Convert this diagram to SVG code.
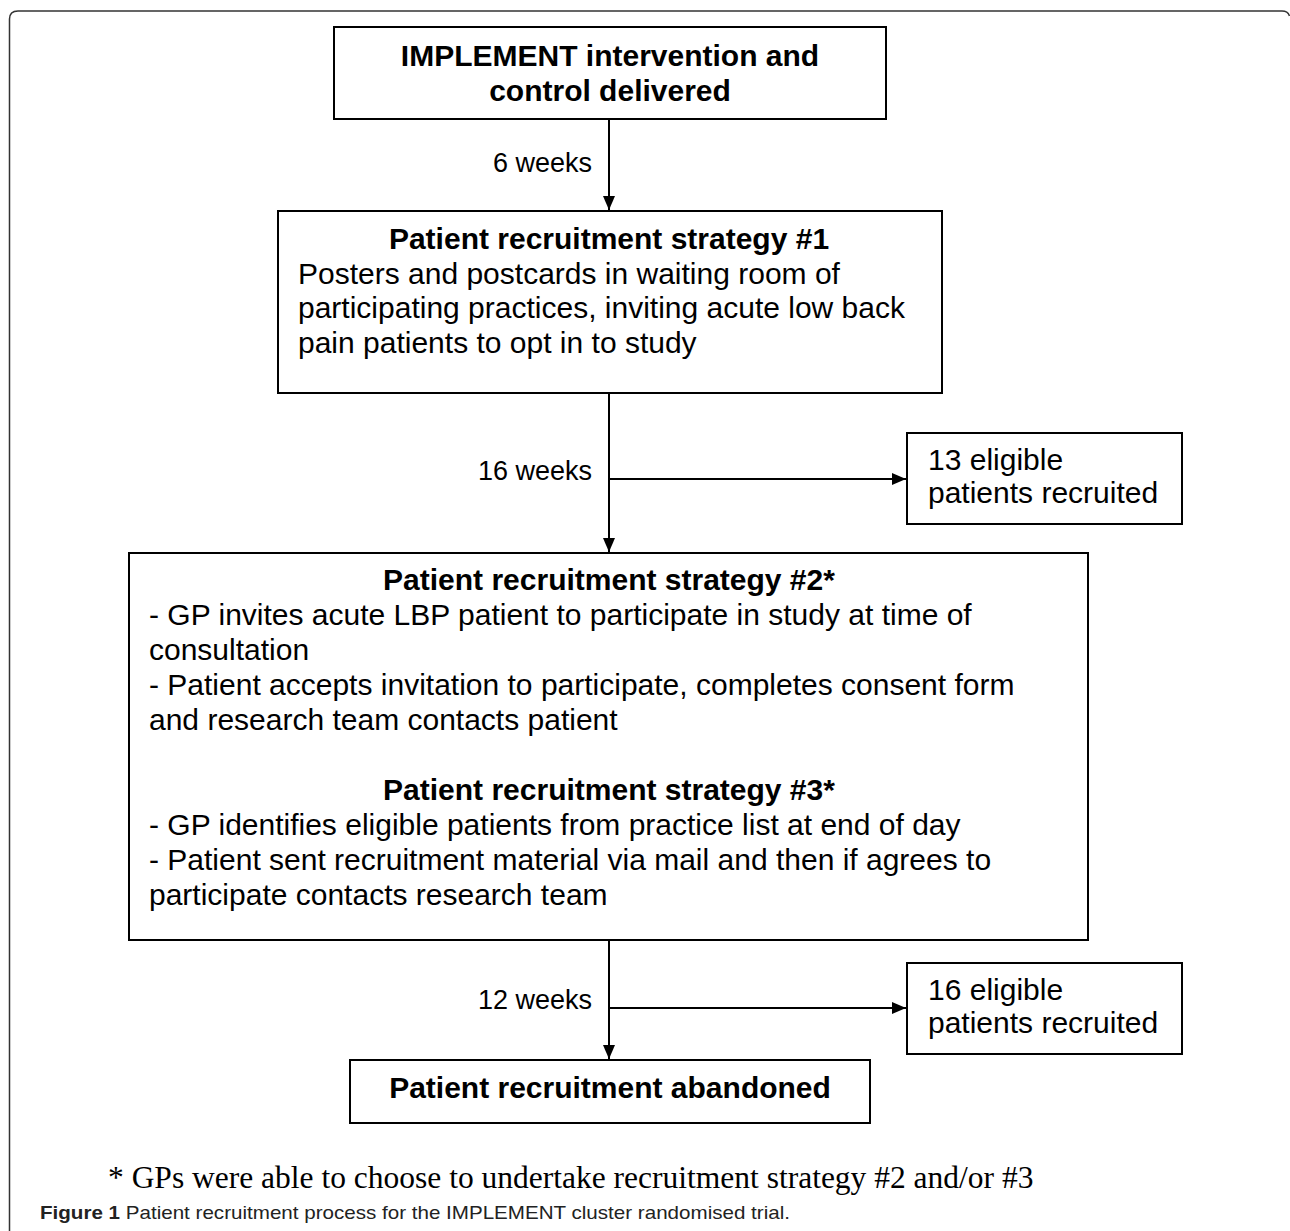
<svg xmlns="http://www.w3.org/2000/svg" width="1290" height="1231" viewBox="0 0 1290 1231">
<style>
.box{fill:#fff;stroke:#000;stroke-width:2}
.t{font-family:"Liberation Sans",Arial,sans-serif;font-size:30px;fill:#000}
.b{font-weight:bold}
.lbl{font-family:"Liberation Sans",Arial,sans-serif;font-size:27px;fill:#000}
.conn{stroke:#000;stroke-width:2;fill:none}
</style>
<defs>
<marker id="ah" markerWidth="14" markerHeight="12" refX="14" refY="6" orient="auto" markerUnits="userSpaceOnUse">
<path d="M0,0 L14,6 L0,12 Z" fill="#000"/>
</marker>
</defs>
<rect width="1290" height="1231" fill="#fff"/>
<path d="M9.5,1231 L9.5,19 Q9.5,11 18,11 L1282,11 Q1288,11 1289.5,16" fill="none" stroke="#333" stroke-width="1.5"/>

<g id="connectors">
<line class="conn" x1="609" y1="119" x2="609" y2="210" marker-end="url(#ah)"/>
<line class="conn" x1="609" y1="393" x2="609" y2="552" marker-end="url(#ah)"/>
<line class="conn" x1="609" y1="479" x2="906" y2="479" marker-end="url(#ah)"/>
<line class="conn" x1="609" y1="940" x2="609" y2="1059" marker-end="url(#ah)"/>
<line class="conn" x1="609" y1="1008" x2="906" y2="1008" marker-end="url(#ah)"/>
<text class="lbl" x="592" y="172" text-anchor="end">6 weeks</text>
<text class="lbl" x="592" y="480" text-anchor="end">16 weeks</text>
<text class="lbl" x="592" y="1009" text-anchor="end">12 weeks</text>
</g>

<g id="n1">
<rect class="box" x="334" y="27" width="552" height="92"/>
<text class="t b" x="610" y="66" text-anchor="middle">IMPLEMENT intervention and</text>
<text class="t b" x="610" y="101" text-anchor="middle">control delivered</text>
</g>

<g id="n2">
<rect class="box" x="278" y="211" width="664" height="182"/>
<text class="t b" x="609" y="249" text-anchor="middle">Patient recruitment strategy #1</text>
<text class="t" x="298" y="284">Posters and postcards in waiting room of</text>
<text class="t" x="298" y="318">participating practices, inviting acute low back</text>
<text class="t" x="298" y="353">pain patients to opt in to study</text>
</g>

<g id="n3">
<rect class="box" x="907" y="433" width="275" height="91"/>
<text class="t" x="928" y="470">13 eligible</text>
<text class="t" x="928" y="503">patients recruited</text>
</g>

<g id="n4">
<rect class="box" x="129" y="553" width="959" height="387"/>
<text class="t b" x="609" y="590" text-anchor="middle">Patient recruitment strategy #2*</text>
<text class="t" x="149" y="625">- GP invites acute LBP patient to participate in study at time of</text>
<text class="t" x="149" y="660">consultation</text>
<text class="t" x="149" y="695">- Patient accepts invitation to participate, completes consent form</text>
<text class="t" x="149" y="730">and research team contacts patient</text>
<text class="t b" x="609" y="800" text-anchor="middle">Patient recruitment strategy #3*</text>
<text class="t" x="149" y="835">- GP identifies eligible patients from practice list at end of day</text>
<text class="t" x="149" y="870">- Patient sent recruitment material via mail and then if agrees to</text>
<text class="t" x="149" y="905">participate contacts research team</text>
</g>

<g id="n5">
<rect class="box" x="907" y="963" width="275" height="91"/>
<text class="t" x="928" y="1000">16 eligible</text>
<text class="t" x="928" y="1033">patients recruited</text>
</g>

<g id="n6">
<rect class="box" x="350" y="1060" width="520" height="63"/>
<text class="t b" x="610" y="1098" text-anchor="middle">Patient recruitment abandoned</text>
</g>

<text x="108" y="1188" font-family="'Liberation Serif','Times New Roman',serif" font-size="31.5" fill="#000">* GPs were able to choose to undertake recruitment strategy #2 and/or #3</text>
<text x="40" y="1219" font-family="'Liberation Sans',Arial,sans-serif" font-size="19" fill="#222" textLength="750" lengthAdjust="spacingAndGlyphs"><tspan font-weight="bold">Figure 1</tspan> Patient recruitment process for the IMPLEMENT cluster randomised trial.</text>
</svg>
